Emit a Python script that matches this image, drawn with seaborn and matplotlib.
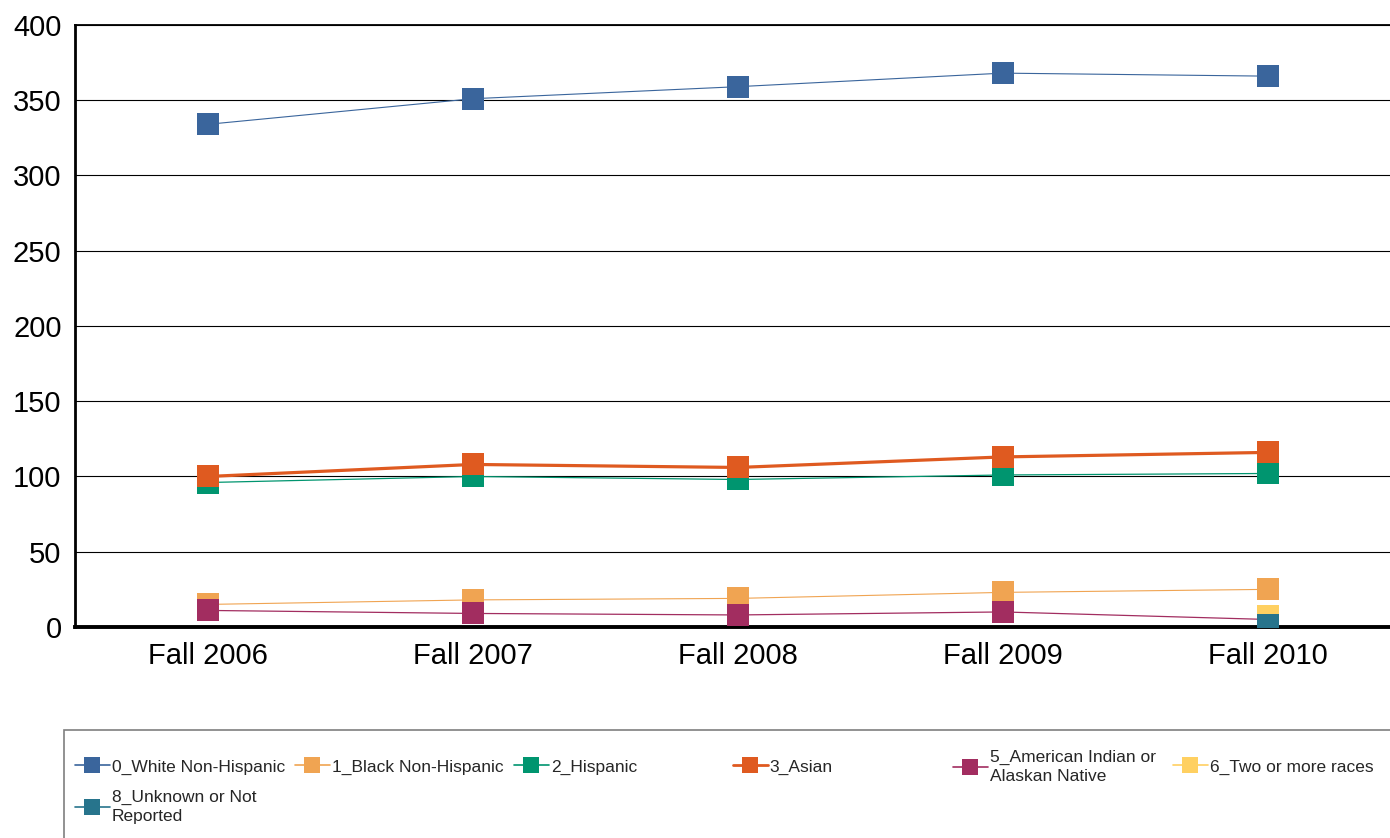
import numpy as np
import pandas as pd
import matplotlib
matplotlib.use("Agg")
import matplotlib.pyplot as plt
import seaborn as sns
from matplotlib.lines import Line2D
from matplotlib.patches import Rectangle

# --- data ---
terms = ["Fall 2006", "Fall 2007", "Fall 2008", "Fall 2009", "Fall 2010"]
groups = ["0_White Non-Hispanic", "1_Black Non-Hispanic", "2_Hispanic", "3_Asian",
          "5_American Indian or\nAlaskan Native", "6_Two or more races",
          "8_Unknown or Not\nReported"]
white = [334, 351, 359, 368, 366]
black = [15, 18, 19, 23, 25]
hispanic = [96, 100, 98, 101, 102]
asian = [100, 108, 106, 113, 116]
am_indian = [11, 9, 8, 10, 5]
two_more = [np.nan, np.nan, np.nan, np.nan, 7]
unknown = [np.nan, np.nan, np.nan, np.nan, 1]
series = [white, black, hispanic, asian, am_indian, two_more, unknown]

colors = ["#3A659C", "#F0A452", "#00956F", "#DF5A20", "#A22D60", "#FFD061", "#27748C"]
widths = [0.8, 0.8, 0.9, 2.3, 0.9, 0.8, 0.8]

sns.set_style("white")
plt.rcParams["font.family"] = ["Liberation Sans", "DejaVu Sans"]

fig = plt.figure(figsize=(13.9, 8.38), dpi=100)
ax = fig.add_axes([0.0543, 0.2518, 0.953, 0.7184])

# --- lines with square markers ---
for i, (name, vals) in enumerate(zip(groups, series)):
    d = pd.DataFrame({"x": np.arange(len(terms)), "y": vals}).dropna()
    sns.lineplot(data=d, x="x", y="y", ax=ax, color=colors[i], lw=widths[i],
                 marker="s", markersize=15.8, markeredgewidth=0,
                 errorbar=None, zorder=3 + i)

ax.set_xlim(-0.5, 4.5)
ax.set_ylim(0, 400)
ax.set_yticks(range(0, 401, 50))
ax.set_xticks(range(len(terms)))
ax.set_xticklabels(terms)
ax.set_xlabel("")
ax.set_ylabel("")
ax.tick_params(axis="both", labelsize=21, length=0, colors="black")
ax.tick_params(axis="y", pad=10)
ax.tick_params(axis="x", pad=11)
ax.yaxis.grid(True, color="black", lw=0.8)
ax.set_axisbelow(True)

ax.spines["right"].set_visible(False)
ax.spines["top"].set_color("black")
ax.spines["top"].set_linewidth(1.3)
ax.spines["left"].set_color("black")
ax.spines["left"].set_linewidth(2.0)
ax.spines["bottom"].set_color("black")
ax.spines["bottom"].set_linewidth(2.8)
ax.spines["bottom"].set_zorder(2)

# --- legend box ---
W, H = 1390.0, 838.0
fig.add_artist(Rectangle((64 / W, -0.05), 1.0, 1 - 730 / H + 0.05,
                         transform=fig.transFigure, facecolor="white",
                         edgecolor="#7f7f7f", lw=1.2, zorder=0))

# legend entries in fixed-width slots (px positions of each handle start)
slot_x = [75, 295, 514, 733, 953, 1173, 75]
slot_y = [767, 767, 767, 767, 767, 767, 807]
for i, name in enumerate(groups):
    h = Line2D([], [], color=colors[i], lw=1.2 if i != 3 else 2.0,
               marker="s", markersize=12.2, markeredgewidth=0)
    leg = fig.legend(handles=[h], labels=[name], loc="center left",
                     bbox_to_anchor=(slot_x[i] / W, 1 - slot_y[i] / H),
                     frameon=False, fontsize=12.5, borderpad=0, borderaxespad=0,
                     handlelength=2.0, handletextpad=0.12, labelspacing=0)
    for t in leg.get_texts():
        t.set_linespacing(1.35)

fig.savefig("out.png", dpi=100)
